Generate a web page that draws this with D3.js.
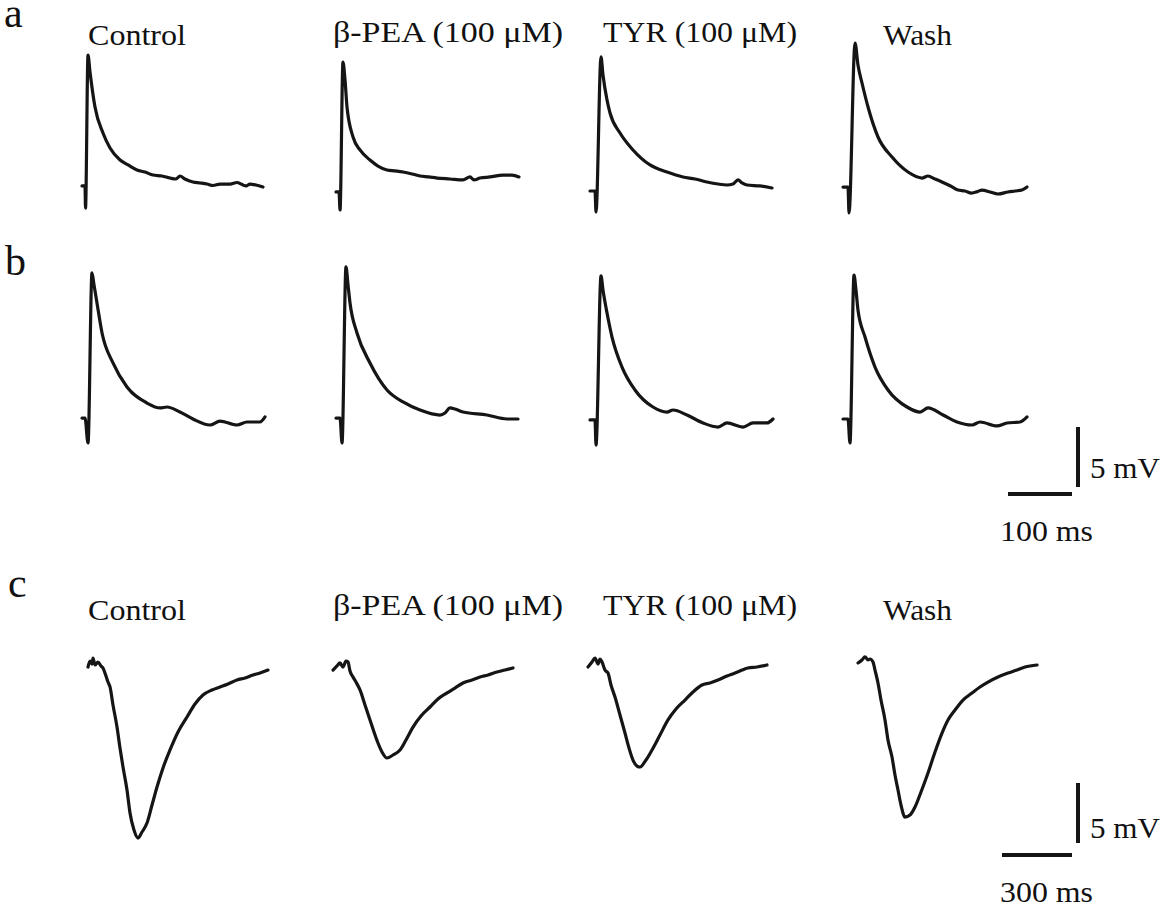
<!DOCTYPE html>
<html>
<head>
<meta charset="utf-8">
<script src="https://cdn.jsdelivr.net/npm/d3@7"></script>
<style>
html,body{margin:0;padding:0;background:#fff;}
svg{display:block;}
text{font-family:"Liberation Serif","Times New Roman",serif;fill:#111;}
</style>
</head>
<body>
<script>
// ---------- DATA (time in ms, voltage in mV relative to row baseline) ----------
const conditions = ["Control", "β-PEA (100 μM)", "TYR (100 μM)", "Wash"];
const panelLetters = ["a", "b", "c"];
const scaleBarAB = {ms: 100, mV: 5, msLabel: "100 ms", mVLabel: "5 mV"};
const scaleBarC  = {ms: 300, mV: 5, msLabel: "300 ms", mVLabel: "5 mV"};

// Panel a (EPSP-like traces)
const aControl = [[0,0.17],[4.7,0.17],[5.5,-1.67],[9.4,11.08],[12.5,9.67],[20.3,6.75],[32.8,4.58],[43.8,3.33],[59.4,2.33],[71.9,1.92],[85.9,1.5],[98.4,1.33],[110.9,1.08],[125,1.0],[137.5,0.83],[146.9,0.75],[153.1,1.0],[160.9,0.75],[173.4,0.5],[184.4,0.42],[195.3,0.33],[204.7,0.21],[215.6,0.33],[231.3,0.33],[242.2,0.46],[250,0.29],[256.3,0.17],[262.5,0.33],[271.9,0.25],[282.8,0.08]];
const aPEA = [[0,-0.33],[4.7,-0.33],[6.3,-1.83],[10.9,10.5],[14.1,9.0],[17.2,6.75],[26.6,4.25],[37.5,3.17],[53.1,2.33],[65.6,1.83],[79.7,1.5],[92.2,1.42],[104.7,1.33],[118.8,1.17],[131.3,1.0],[145,0.92],[157.8,0.83],[178.1,0.75],[198.4,0.67],[209.4,0.92],[215.6,0.67],[225,0.83],[240.6,0.92],[260.9,1.08],[275,1.08],[285.9,0.92]];
const aTYR = [[0,-0.25],[7.8,-0.25],[9.4,-2.0],[17.2,10.92],[20.3,9.42],[26.6,7.33],[31.3,6.25],[46.9,4.58],[67.2,3.17],[93.8,1.92],[120.3,1.33],[145.3,0.92],[164.1,0.75],[182.8,0.5],[200,0.33],[214.1,0.25],[223.4,0.33],[231.3,0.67],[237.5,0.42],[245.3,0.25],[265.6,0.17],[284.4,0]];
const aWash = [[0,0.08],[7.8,0.08],[9.4,-2.08],[18.8,12.08],[23.4,10.25],[29.7,8.75],[39.1,6.75],[54.7,4.25],[76.6,2.58],[101.6,1.33],[123.4,0.83],[132.8,1.0],[143.8,0.75],[154.7,0.5],[168,0.17],[179.7,-0.17],[190.6,-0.25],[200.8,-0.42],[210,-0.3],[217.2,-0.17],[229.7,-0.33],[242.2,-0.5],[257.8,-0.33],[268.8,-0.25],[279.7,-0.17],[287.5,0.08]];

// Panel b
const bControl = [[0,0.08],[4.7,0.08],[9.4,-2.0],[15.6,12.17],[18.8,11.17],[23.4,9.67],[31.3,7.17],[48.4,4.67],[70.3,2.67],[101.6,1.33],[121.9,0.92],[132.8,1.0],[153.1,0.58],[173.4,0],[200,-0.5],[215.6,-0.17],[242.2,-0.5],[257.8,-0.25],[278.1,-0.25],[285.9,0.17]];
const bPEA = [[0,0.08],[6.3,0.08],[9.4,-2.0],[15.6,12.67],[18.8,11.17],[21.9,9.67],[32.8,7.17],[53.1,4.67],[79.7,2.42],[104.7,1.42],[131.3,0.75],[162.5,0.33],[170.3,0.5],[178.1,0.92],[185.9,0.83],[198.4,0.58],[235.9,0.33],[267.2,0],[284.4,0]];
const bTYR = [[0,-0.08],[7.8,-0.08],[9.4,-2.17],[17.2,11.92],[20.3,10.75],[26.6,8.83],[34.4,6.83],[50,4.33],[70.3,2.42],[98.4,1.0],[120.3,0.58],[129.7,0.75],[151.6,0.33],[176.6,-0.33],[200,-0.67],[214.1,-0.33],[239.1,-0.67],[254.7,-0.33],[276.6,-0.33],[285.9,0]];
const bWash = [[0,0],[7.8,0],[10.9,-2.0],[17.2,12.0],[20.3,10.75],[23.4,9.08],[34.4,6.83],[50,4.33],[70.3,2.42],[100,1.0],[120.3,0.58],[132.8,0.92],[156.3,0.33],[178.1,-0.25],[201.6,-0.5],[214.1,-0.25],[240.6,-0.58],[256.3,-0.33],[276.6,-0.25],[287.5,0.17]];

// Panel c (hyperpolarising traces)
const cControl = [[8.6,-0.17],[17.1,0.33],[25.7,0.08],[30,0.58],[38.6,0],[51.4,0.25],[64.3,-0.08],[72.9,-0.25],[85.7,-0.92],[94.3,-1.42],[102.9,-1.83],[115.7,-3.33],[132.9,-5.17],[145.7,-6.92],[158.6,-8.5],[175.7,-10.42],[188.6,-12.33],[205.7,-13.75],[222.9,-14.42],[240,-13.92],[261.4,-13.17],[282.9,-11.67],[304.3,-10.17],[330,-8.58],[360,-7.08],[394.3,-5.58],[432.9,-4.33],[467.1,-3.25],[501.4,-2.5],[540,-2.08],[574.3,-1.83],[608.6,-1.58],[647.1,-1.25],[681.4,-1.08],[715.7,-0.83],[745.7,-0.67],[780,-0.42]];
const cPEA = [[8.6,-0.42],[25.7,-0.08],[38.6,0.17],[51.4,-0.17],[64.3,0.33],[72.9,0.25],[81.4,-0.5],[94.3,-1.0],[107.1,-1.42],[124.3,-2.08],[145.7,-3.33],[167.1,-4.58],[184.3,-5.58],[201.4,-6.5],[218.6,-7.25],[240,-7.75],[265.7,-7.5],[295.7,-7.08],[321.4,-6.25],[351.4,-5.17],[385.7,-4.25],[424.3,-3.5],[458.6,-2.83],[497.1,-2.33],[531.4,-1.92],[565.7,-1.5],[604.3,-1.25],[638.6,-1.0],[672.9,-0.83],[711.4,-0.58],[745.7,-0.42],[780,-0.25]];
const cTYR = [[8.6,-0.17],[25.7,0.25],[38.6,0.58],[51.4,0.08],[60,0.5],[68.6,0.25],[81.4,-0.42],[94.3,-0.67],[107.1,-1.67],[124.3,-2.67],[145.7,-4.17],[167.1,-5.67],[184.3,-6.92],[201.4,-7.92],[218.6,-8.42],[231.4,-8.5],[257.1,-7.92],[282.9,-7.08],[317.1,-5.83],[351.4,-4.58],[385.7,-3.67],[424.3,-2.92],[458.6,-2.25],[497.1,-1.67],[531.4,-1.5],[565.7,-1.25],[604.3,-0.92],[638.6,-0.67],[668.6,-0.42],[694.3,-0.25],[732.9,-0.17],[775.7,0]];
const cWash = [[8.6,0.17],[25.7,0.42],[38.6,0.67],[51.4,0.42],[60,0.5],[72.9,0.25],[81.4,-0.42],[94.3,-1.5],[107.1,-2.92],[124.3,-4.58],[137.1,-6.25],[154.3,-7.67],[167.1,-9.17],[180,-10.42],[192.9,-11.67],[210,-12.67],[231.4,-12.5],[252.9,-11.83],[278.6,-10.58],[308.6,-9.0],[338.6,-7.25],[368.6,-5.67],[394.3,-4.58],[424.3,-3.75],[458.6,-2.92],[497.1,-2.33],[531.4,-1.83],[565.7,-1.42],[608.6,-1.0],[651.4,-0.67],[690,-0.42],[724.3,-0.17],[775.7,0]];

const rowA = [aControl, aPEA, aTYR, aWash];
const rowB = [bControl, bPEA, bTYR, bWash];
const rowC = [cControl, cPEA, cTYR, cWash];

// ---------- LAYOUT ----------
const W = 1167, H = 908;
const colsAB = [82, 336, 590, 843];
const colsC  = [86, 331, 586, 856];
const baseA = 188, baseB = 419, baseC = 665;
const labelX = [88, 333, 603, 883];
const labelW = [98, 230, 194, 69];

const svg = d3.select("body").append("svg").attr("width", W).attr("height", H);

// scales: ms -> px, mV -> px
const xAB = d3.scaleLinear().domain([0, 100]).range([0, 64]);
const xC  = d3.scaleLinear().domain([0, 300]).range([0, 70]);
const yMV = d3.scaleLinear().domain([0, 5]).range([0, -60]);

function drawRow(data, cols, base, xs) {
  const line = d3.line().x(d => xs(d[0])).y(d => yMV(d[1])).curve(d3.curveMonotoneX);
  data.forEach((tr, i) => {
    svg.append("g").attr("transform", `translate(${cols[i]},${base})`)
      .append("path").attr("d", line(tr))
      .attr("fill", "none").attr("stroke", "#151515")
      .attr("stroke-width", 3.2).attr("stroke-linejoin", "round").attr("stroke-linecap", "round");
  });
}
drawRow(rowA, colsAB, baseA, xAB);
drawRow(rowB, colsAB, baseB, xAB);
drawRow(rowC, colsC, baseC, xC);

// labels
function labels(y0, yBeta) {
  conditions.forEach((c, i) => {
    svg.append("text").attr("x", labelX[i]).attr("y", (i === 1 || i === 2) ? yBeta : y0)
      .attr("font-size", 30).attr("textLength", labelW[i]).attr("lengthAdjust", "spacingAndGlyphs")
      .text(c);
  });
}
labels(45, 42);
labels(620, 615);

// panel letters
[[4, 27], [5, 275], [8, 597]].forEach((p, i) => {
  svg.append("text").attr("x", p[0]).attr("y", p[1]).attr("font-size", 42).text(panelLetters[i]);
});

// scale bars
function scaleBar(sb, xs, xRight, yBottom, hy, lblMsY, lblMvY) {
  const g = svg.append("g");
  const len = xs(sb.ms);
  g.append("line").attr("x1", xRight - len).attr("x2", xRight).attr("y1", hy).attr("y2", hy)
    .attr("stroke", "#151515").attr("stroke-width", 4);
  g.append("line").attr("x1", xRight + 6).attr("x2", xRight + 6)
    .attr("y1", yBottom).attr("y2", yBottom + yMV(sb.mV))
    .attr("stroke", "#151515").attr("stroke-width", 4);
  g.append("text").attr("x", 1090).attr("y", lblMvY).attr("font-size", 30)
    .attr("textLength", 70).attr("lengthAdjust", "spacingAndGlyphs").text(sb.mVLabel);
  g.append("text").attr("x", 1000).attr("y", lblMsY).attr("font-size", 30)
    .attr("textLength", 93).attr("lengthAdjust", "spacingAndGlyphs").text(sb.msLabel);
}
scaleBar(scaleBarAB, xAB, 1072, 487, 494, 541, 478);
scaleBar(scaleBarC, xC, 1072, 843, 855, 902, 838);
</script>
</body>
</html>
